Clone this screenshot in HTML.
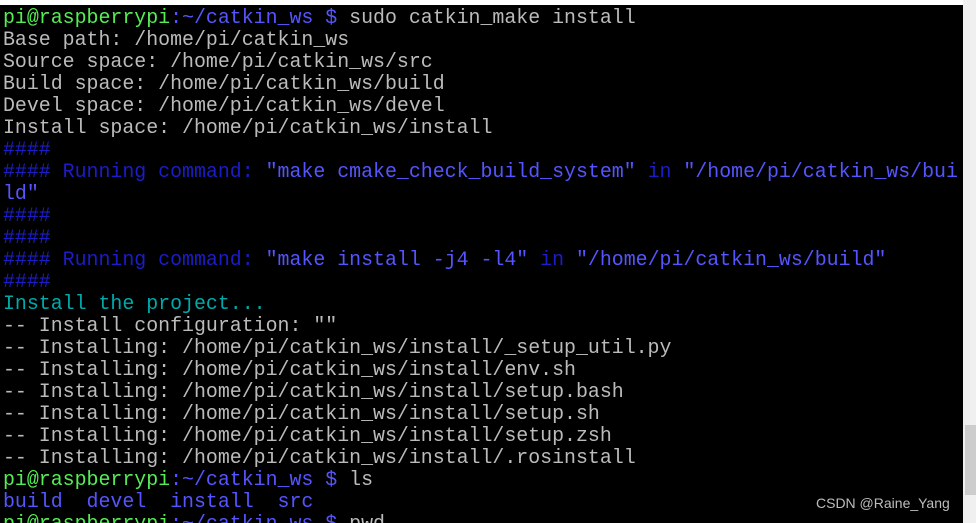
<!DOCTYPE html>
<html><head><meta charset="utf-8"><style>
html,body{margin:0;padding:0;background:#fff;width:976px;height:523px;overflow:hidden;position:relative}
#term{position:absolute;left:0;top:5px;width:963px;height:518px;background:#000;overflow:hidden}
pre{margin:0;position:absolute;left:3px;top:2px;font-family:"Liberation Mono","Courier New",monospace;font-size:19.9px;line-height:22px;color:#bbbbbb;white-space:pre}
.g{color:#55ee55}.b{color:#5555ff}.d{color:#1c1cc8}.c{color:#00aaaa}
#sb{position:absolute;left:963px;top:0;width:13px;height:523px;background:#f0f0f0}
#thumb{position:absolute;left:965px;top:425px;width:11px;height:70px;background:#cdcdcd}
#wm{position:absolute;left:816px;top:495px;font-family:"Liberation Sans",sans-serif;font-size:14px;color:#bdbdbd}
</style></head><body>
<div id="term"><pre><span class="g">pi@raspberrypi</span><span class="b">:~/catkin_ws $</span> sudo catkin_make install
Base path: /home/pi/catkin_ws
Source space: /home/pi/catkin_ws/src
Build space: /home/pi/catkin_ws/build
Devel space: /home/pi/catkin_ws/devel
Install space: /home/pi/catkin_ws/install
<span class="d">####</span>
<span class="d">#### Running command: </span><span class="b">"make cmake_check_build_system"</span><span class="d"> in </span><span class="b">"/home/pi/catkin_ws/bui</span>
<span class="b">ld"</span>
<span class="d">####</span>
<span class="d">####</span>
<span class="d">#### Running command: </span><span class="b">"make install -j4 -l4"</span><span class="d"> in </span><span class="b">"/home/pi/catkin_ws/build"</span>
<span class="d">####</span>
<span class="c">Install the project...</span>
-- Install configuration: ""
-- Installing: /home/pi/catkin_ws/install/_setup_util.py
-- Installing: /home/pi/catkin_ws/install/env.sh
-- Installing: /home/pi/catkin_ws/install/setup.bash
-- Installing: /home/pi/catkin_ws/install/setup.sh
-- Installing: /home/pi/catkin_ws/install/setup.zsh
-- Installing: /home/pi/catkin_ws/install/.rosinstall
<span class="g">pi@raspberrypi</span><span class="b">:~/catkin_ws $</span> ls
<span class="b">build  devel  install  src</span>
<span class="g">pi@raspberrypi</span><span class="b">:~/catkin_ws $</span> pwd</pre></div>
<div id="sb"></div><div id="thumb"></div>
<div id="wm">CSDN @Raine_Yang</div>
</body></html>
